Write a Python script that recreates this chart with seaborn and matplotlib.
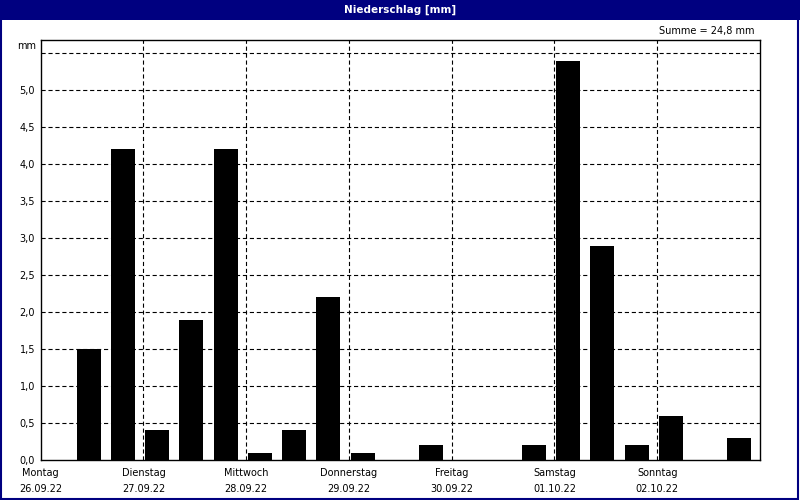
import numpy as np
import pandas as pd
import matplotlib
matplotlib.use("Agg")
import matplotlib.pyplot as plt
from matplotlib.patches import Rectangle
import seaborn as sns

# 8-hour precipitation sums, Monday 00:00 to Sunday 24:00
niederschlag = [0.0, 1.5, 4.2, 0.4, 1.9, 4.2, 0.1, 0.4, 2.2, 0.1, 0.0,
                0.2, 0.0, 0.0, 0.2, 5.4, 2.9, 0.2, 0.6, 0.0, 0.3]
tage = ["Montag", "Dienstag", "Mittwoch", "Donnerstag", "Freitag", "Samstag", "Sonntag"]
daten = ["26.09.22", "27.09.22", "28.09.22", "29.09.22", "30.09.22", "01.10.22", "02.10.22"]
y_ticks = [0.0, 0.5, 1.0, 1.5, 2.0, 2.5, 3.0, 3.5, 4.0, 4.5, 5.0, 5.5]

navy = "#000080"

sns.set_style("white")
plt.rcParams['font.family'] = ['DejaVu Sans']
plt.rcParams['lines.scale_dashes'] = False
plt.rcParams['text.color'] = 'black'
plt.rcParams['xtick.color'] = 'black'
plt.rcParams['ytick.color'] = 'black'

# bar positions in hours (slot start + small offset so bars sit at left of slot)
stunden = np.arange(len(niederschlag)) * 8
df = pd.DataFrame({"mitte": stunden + 3.2, "mm": niederschlag})

fig = plt.figure(figsize=(8, 5), dpi=100)
ax = fig.add_axes([0.0509, 0.08, 0.899, 0.84])

sns.barplot(data=df, x="mitte", y="mm", native_scale=True, width=0.7,
            color="black", saturation=1, linewidth=0, errorbar=None, ax=ax, zorder=3)

ax.set_xlim(0, 168)
ax.set_ylim(0, 5.68)

dash = (0, (3, 2))
for yv in y_ticks[1:]:
    ax.axhline(yv, color="black", lw=0.8, linestyle=dash, zorder=1)
for xv in range(24, 168, 24):
    ax.axvline(xv, color="black", lw=0.8, linestyle=dash, zorder=1)

ax.set_yticks(y_ticks)
ax.set_yticklabels([f"{v:.1f}".replace(".", ",") if v < 5.4 else "" for v in y_ticks])
ax.set_xticks(range(0, 168, 24))
ax.set_xticklabels([f"{t}\n{d}" for t, d in zip(tage, daten)], linespacing=1.75)
ax.tick_params(axis="both", length=0, labelsize=7, pad=4, colors="black")
ax.tick_params(axis="x", pad=6)
ax.set_xlabel("")
ax.set_ylabel("")
for s in ax.spines.values():
    s.set_color("black")
    s.set_linewidth(1)

ax.text(-0.006, 5.6, "mm", transform=ax.get_yaxis_transform(), ha="right", va="center",
        fontsize=7, color="black")

# title bar and frame
fig.patches.append(Rectangle((0, 0.96), 1, 0.04, transform=fig.transFigure,
                             facecolor=navy, edgecolor="none", zorder=0))
fig.patches.append(Rectangle((0.001, 0.002), 0.997, 0.996, transform=fig.transFigure,
                             facecolor="none", edgecolor=navy, lw=1.5, zorder=5))
fig.text(0.5, 0.98, "Niederschlag [mm]", color="white", ha="center", va="center",
         fontsize=7.5, fontweight="bold")
fig.text(0.943, 0.938, "Summe = 24,8 mm", ha="right", va="center", fontsize=7, color="black")

fig.savefig("out.png", dpi=100)
